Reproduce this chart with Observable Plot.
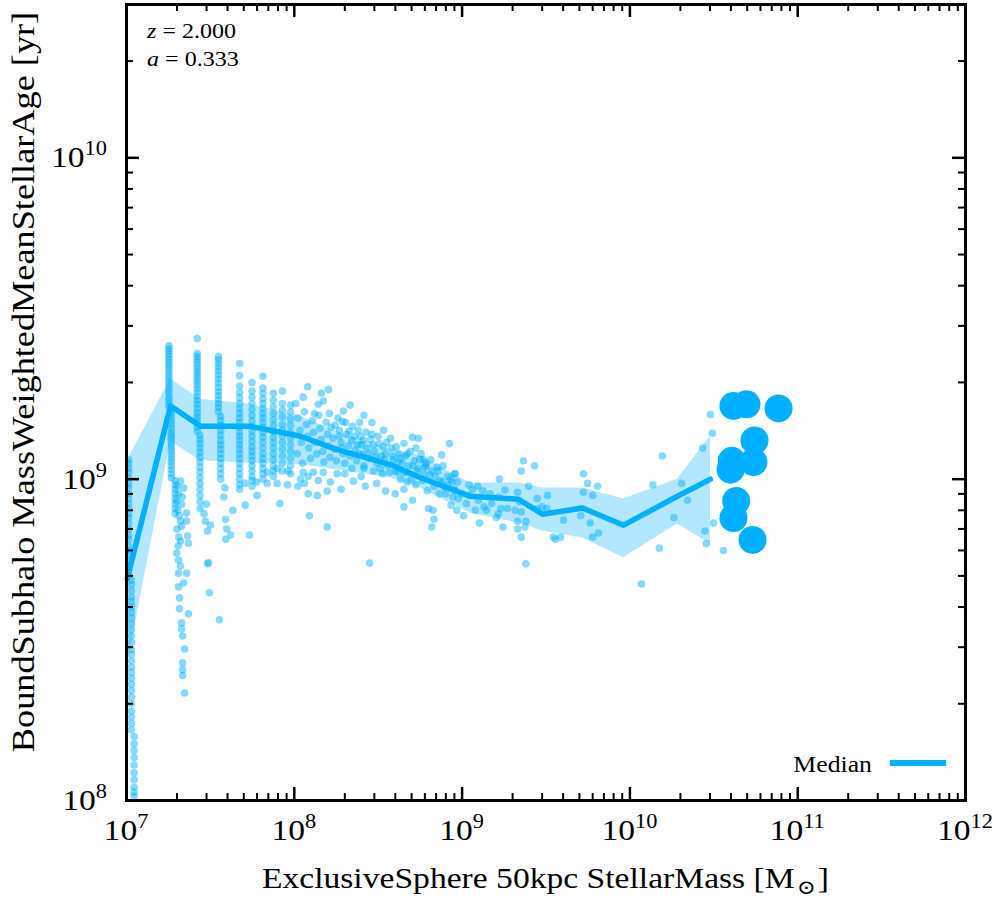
<!DOCTYPE html>
<html><head><meta charset="utf-8">
<script src="https://cdn.jsdelivr.net/npm/d3@7"></script>
<script src="https://cdn.jsdelivr.net/npm/@observablehq/plot@0.6"></script>
<style>body{margin:0;background:#fff} svg{display:block}</style>
</head><body><div id="chart"></div>
<script>
// ---- data (mass in Msun, ages in Gyr) ----
const xMajor = [1e7, 1e8, 1e9, 1e10, 1e11, 1e12];
const xTickLabels = ["7", "8", "9", "10", "11", "12"];   // exponents of 10
const yMajor = [1e8, 1e9, 1e10];
const yTickLabels = ["8", "9", "10"];

// dense vertical columns (discrete low stellar masses)
const columnMass = [1.03e7, 1.07e7, 1.11e7, 1.79e7, 1.85e7, 1.95e7, 2.64e7, 2.74e7, 3.53e7, 3.64e7, 4.72e7, 5.6e7, 6.5e7, 7.5e7, 8.5e7, 9.5e7];
const columnAges = [
  [1.15,1.12,1.08,1.05,1.01,0.97,0.94,0.9,0.87,0.84,0.81,0.78,0.76,0.73,0.7,0.67,0.65,0.62,0.6,0.58,0.56,0.54,0.52,0.5],
  [0.485,0.47,0.45,0.43,0.415,0.4,0.385,0.37,0.355,0.34,0.325,0.31,0.295,0.285,0.272,0.26,0.25,0.24,0.23,0.22,0.21,0.2,0.19,0.182,0.174,0.166],
  [0.158,0.15,0.143,0.136,0.129,0.122,0.116,0.11,0.106,0.103],
  [2.6,2.55,2.5,2.45,2.4,2.35,2.3,2.25,2.2,2.15,2.1,2.05,2.0,1.95,1.9,1.85,1.8,1.76,1.72,1.68],
  [1.64,1.6,1.56,1.52,1.48,1.44,1.4,1.37,1.34,1.31,1.28,1.25,1.22,1.19,1.16,1.13,1.1,1.07,1.04,1.01],
  [0.99,0.96,0.93,0.9,0.87,0.84,0.81,0.78],
  [2.74,2.46,2.41,2.36,2.31,2.26,2.21,2.16,2.11,2.06,2.01,1.96,1.91,1.86,1.81,1.76,1.71,1.66,1.61,1.57,1.53,1.49,1.45,1.41],
  [1.37,1.33,1.29,1.25,1.21,1.17,1.13,1.09,1.05,1.01,0.97,0.93,0.89,0.85,0.81],
  [2.41,2.35,2.29,2.23,2.17,2.11,2.05,1.99,1.93,1.87,1.82,1.77,1.72,1.67,1.62],
  [1.57,1.52,1.47,1.42,1.37,1.32,1.28,1.24,1.2,1.16,1.12,1.08,1.04,1.0],
  [2.29,2.1,1.95,1.86,1.79,1.72,1.66,1.6,1.55,1.5,1.45,1.4,1.36,1.32,1.28,1.24,1.2,1.16,1.12,1.08,1.04,1.0,0.96,0.93],
  [2.0,1.88,1.8,1.72,1.65,1.58,1.52,1.46,1.41,1.36,1.31,1.26,1.22,1.18,1.14,1.1,1.06,1.02,0.99,0.95],
  [2.09,1.92,1.85,1.78,1.72,1.66,1.6,1.55,1.5,1.45,1.4,1.35,1.3,1.25,1.2,1.16,1.12,1.08,1.04,1.0],
  [1.85,1.76,1.68,1.6,1.53,1.47,1.41,1.35,1.3,1.25,1.2,1.15,1.1,1.06,1.02],
  [1.88,1.72,1.64,1.56,1.48,1.42,1.36,1.3,1.24,1.18,1.12,1.06],
  [1.7,1.62,1.54,1.47,1.4,1.34,1.28,1.22,1.16,1.1,1.04]
];

// individual scattered galaxies [mass, age Gyr]
const scatter = [
  [2.10e7,0.986],[2.19e7,0.938],[1.99e7,0.855],[2.13e7,0.836],[2.28e7,0.784],[2.10e7,0.741],[2.28e7,0.741],[2.13e7,0.714],
  [2.31e7,0.665],[2.10e7,0.642],[2.34e7,0.632],[1.99e7,0.589],[2.04e7,0.56],[2.10e7,0.537],[2.04e7,0.510],[2.28e7,0.510],
  [2.19e7,0.475],[2.04e7,0.462],[2.07e7,0.427],[2.07e7,0.395],[2.34e7,0.381],[2.13e7,0.357],[2.13e7,0.342],[2.16e7,0.325],
  [2.22e7,0.296],[2.16e7,0.268],[2.16e7,0.255],[2.16e7,0.245],[2.22e7,0.216],
  [2.0e7,0.95],[2.05e7,0.9],[2.02e7,0.8],[2.06e7,0.77],[2.15e7,0.88],[2.0e7,0.7],[2.05e7,0.66],[2.03e7,0.62],
  [2.99e7,0.836],[3.04e7,0.69],[3.17e7,0.72],[3.04e7,0.545],[3.08e7,0.55],[3.12e7,0.443],[2.9e7,0.78],[2.95e7,0.74],
  [3.58e7,0.365],[3.85e7,0.94],[3.9e7,0.75],[3.95e7,0.7],[3.9e7,0.65],[3.8e7,0.88],
  [5.1e7,0.83],[5.4e7,0.67],[6.0e7,0.89],[8.2e7,0.84],[5.1e7,0.97],[5.95e7,0.98],[6.9e7,0.97],[7.9e7,0.97],[9.1e7,0.96],
  [6.9e7,1.05],[7.9e7,1.08],[9.2e7,1.06],[4.17e7,0.67],[4.3e7,0.8],
  [1.2e8,1.94],[1.13e8,1.8],[1.49e8,1.75],[1.39e8,1.71],[1.96e8,1.63],[1.62e8,1.6],[1.32e8,1.6],[1.94e8,1.51],[2.22e8,1.46],
  [2.48e8,1.36],[2.85e8,1.33],[3.74e8,1.34],[5.06e8,1.35],[5.5e8,1.34],[4.5e8,1.29],[5.3e8,1.25],[3.4e8,1.26],[8.41e8,1.29],
  [7.55e8,1.19],[5.9e8,1.15],[7.1e8,1.09],[9.1e8,1.04],[1.1e9,0.96],[3.5e8,0.918],[2.65e8,0.95],[4.5e8,0.93],[5.06e8,0.86],
  [4.5e8,0.82],[6.3e8,0.81],[6.7e8,0.8],[6.8e8,0.75],[6.6e8,0.71],[9.3e8,0.8],[1.02e9,0.77],[1.57e8,0.71],[1.23e8,0.77],
  [1.57e8,0.918],[1.37e8,0.89],[1.21e8,0.9],[1.64e8,0.98],[1.39e8,0.99],[1.8e8,1.04],[2.0e8,1.04],[2.25e8,0.986],[1.21e8,1.02],
  [1.09e8,1.0],[1.13e8,1.05],[1.3e8,1.05],[1.49e8,1.05],[2.6e8,1.08],[2.97e8,1.06],[3.35e8,1.04],[4.1e8,1.05],[4.7e8,1.05],
  [5.4e8,1.06],[6.0e8,1.09],[8.2e8,1.02],[2.81e8,0.548],
  [1.02e8,1.72],[1.05e8,1.55],[1.08e8,1.42],[1.1e8,1.3],[1.04e8,1.2],[1.12e8,1.12],[1.15e8,1.62],[1.18e8,1.48],[1.2e8,1.36],
  [1.22e8,1.25],[1.25e8,1.16],[1.28e8,1.52],[1.3e8,1.4],[1.33e8,1.3],[1.36e8,1.2],[1.4e8,1.58],[1.42e8,1.44],[1.45e8,1.33],
  [1.48e8,1.22],[1.5e8,1.13],[1.55e8,1.5],[1.58e8,1.38],[1.6e8,1.27],[1.63e8,1.17],[1.66e8,1.45],
  [1.7e8,1.34],[1.74e8,1.24],[1.78e8,1.14],[1.82e8,1.55],[1.86e8,1.42],[1.9e8,1.3],[1.95e8,1.2],[2.0e8,1.12],[2.05e8,1.38],
  [2.1e8,1.27],[2.15e8,1.18],[2.2e8,1.32],[2.3e8,1.23],[2.35e8,1.14],[2.4e8,1.42],[2.5e8,1.28],[2.55e8,1.19],[2.6e8,1.1],
  [2.7e8,1.25],[2.8e8,1.16],[2.9e8,1.38],[3.0e8,1.22],[3.1e8,1.12],[3.2e8,1.29],[3.3e8,1.18],
  [3.5e8,1.2],[3.6e8,1.1],[3.8e8,1.25],[3.9e8,1.15],[4.0e8,1.06],[4.2e8,1.2],[4.4e8,1.12],[4.6e8,1.18],[4.8e8,1.1],[5.0e8,1.0],
  [5.2e8,1.14],[5.5e8,1.08],[5.8e8,0.99],[6.1e8,1.12],[6.4e8,1.03],[6.8e8,0.95],[7.2e8,1.06],[7.6e8,0.98],[8.0e8,0.9],
  [8.5e8,1.0],[9.0e8,0.93],[9.5e8,0.87],
  [1.75e8,1.47],[1.85e8,1.36],[1.92e8,1.25],[2.02e8,1.5],[2.12e8,1.41],[2.28e8,1.36],[2.38e8,1.28],[2.45e8,1.2],[2.58e8,1.32],
  [2.68e8,1.4],[2.75e8,1.2],[2.95e8,1.28],[3.05e8,1.17],[3.15e8,1.36],[3.25e8,1.08],[3.45e8,1.15],[3.55e8,1.3],[3.7e8,1.05],
  [3.85e8,1.18],[4.05e8,1.26],[4.15e8,1.13],[4.3e8,1.16],[4.5e8,1.05],[4.7e8,0.98],[4.9e8,1.22],[5.1e8,1.1],[5.3e8,0.96],
  [5.7e8,1.2],[5.9e8,1.04],[6.2e8,0.92],[6.5e8,1.15],[6.9e8,1.02],[7.3e8,0.9],[7.7e8,1.1],[8.2e8,0.96],[8.8e8,0.88],
  [9.4e8,0.98],[1.0e9,0.9],[1.06e9,0.84],[1.15e9,0.93],[1.25e9,0.86],[1.35e9,0.82],[2.5e8,1.02],[2.2e8,1.08],[1.9e8,0.93],
  [3.1e8,0.97],[4.0e8,0.9],[1.05e8,0.95],[1.15e8,0.97],[2.45e8,1.5],[2.9e8,1.5],[3.4e8,1.42],[1.6e8,1.9],[1.45e8,1.85],
  [2.15e8,1.7],[2.6e8,1.58],
  [4.3e8,1.0],[9.0e8,1.04],[8.7e8,0.98],[1.24e9,0.95],[8.6e8,0.83],[1.27e9,0.73],[1.67e9,1.0],[1.8e9,0.925],[1.65e9,0.78],
  [2.14e9,0.91],[2.32e9,1.14],[2.25e9,1.06],[2.7e9,1.1],[2.49e9,0.95],[2.8e9,0.87],[3.23e9,0.89],[3.0e9,0.82],[2.25e9,0.79],
  [2.4e9,0.74],[2.37e9,0.71],[2.14e9,0.74],[2.25e9,0.66],[2.4e9,0.545],[4.02e9,0.745],[3.5e9,0.66],[5.28e9,1.04],[5.6e9,0.97],
  [6.41e9,0.95],[5.28e9,0.91],[6.0e9,0.89],[5.1e9,0.77],[5.8e9,0.73],[6.5e9,0.68],[6.0e9,0.66],[1.56e10,1.18],[1.37e10,0.96],
  [2.03e10,0.97],[2.2e10,0.86],[1.83e10,0.76],[1.5e10,0.61],[2.71e10,1.25],[3.02e10,1.59],[3.1e10,1.39],[3.15e10,0.73],
  [2.8e10,0.69],[2.85e10,0.63],[3.61e10,0.6],[1.17e10,0.472],
  [4.7e8,1.2],[5.6e8,1.15],[6.1e8,1.1],[6.6e8,1.06],[7.4e8,0.99],[7.9e8,0.94],[9.1e8,0.92],[1.1e9,0.89],[1.2e9,0.8],
  [1.47e9,0.9],[1.65e9,0.88],[1.33e9,0.92],[1.5e9,0.84],[1.7e9,0.81],[1.86e9,0.81],[2.07e9,0.8],[2.2e9,0.85],[1.6e9,0.76],
  [1.4e9,0.8],[1.75e9,0.71],[2.14e9,0.7],[2.8e9,0.81],[3.2e9,0.81],[3.86e9,0.66],[3.6e9,0.65]
];

// most massive galaxies (large markers)
const bigMass = [4.14e10, 4.95e10, 7.69e10, 5.53e10, 5.45e10, 4.05e10, 3.98e10, 4.3e10, 4.14e10, 5.38e10];
const bigAge  = [1.69, 1.71, 1.66, 1.32, 1.13, 1.14, 1.07, 0.855, 0.757, 0.647];

// running median and percentile band
const binMass   = [1.01e7, 1.83e7, 2.76e7, 5.48e7, 1.09e8, 1.76e8, 3.74e8, 5.65e8, 1.12e9, 2.17e9, 3.01e9, 5.22e9, 9.17e9, 1.92e10, 3.02e10];
const medianAge = [0.49, 1.69, 1.46, 1.46, 1.36, 1.24, 1.11, 1.01, 0.885, 0.866, 0.778, 0.813, 0.719, 0.885, 1.0];
const bandHigh  = [1.14, 2.05, 1.77, 1.71, 1.57, 1.41, 1.24, 1.18, 0.972, 0.972, 0.938, 0.938, 0.867, 1.0, 1.36];
const bandLow   = [0.262, 1.31, 1.14, 1.12, 1.11, 1.07, 1.01, 0.938, 0.783, 0.73, 0.69, 0.656, 0.569, 0.725, 0.628];

// ---- build tables ----
const GYR = 1e9;
const points = [];
columnMass.forEach((m, i) => columnAges[i].forEach(a => points.push({mass: m, age: a * GYR})));
scatter.forEach(([m, a]) => points.push({mass: m, age: a * GYR}));
const big = bigMass.map((m, i) => ({mass: m, age: bigAge[i] * GYR}));
const band = binMass.map((m, i) => ({mass: m, med: medianAge[i] * GYR, lo: bandLow[i] * GYR, hi: bandHigh[i] * GYR}));

const xMinor = [], yMinor = [];
xMajor.slice(0, -1).forEach(d => { for (let k = 2; k <= 9; k++) xMinor.push(k * d); });
yMajor.forEach(d => { for (let k = 2; k <= 9; k++) if (k * d <= 3e10) yMinor.push(k * d); });

const W = 996, H = 900, mL = 126, mR = 31, mT = 4, mB = 100;
const iw = W - mL - mR, ih = H - mT - mB;
const C = "#00b0ff";
const FONT = "'Liberation Serif', 'Times New Roman', 'DejaVu Serif', serif";
const SX = 1.12; // horizontal glyph stretch of the reference typography

const chart = Plot.plot({
  width: W, height: H,
  marginLeft: mL, marginRight: mR, marginTop: mT, marginBottom: mB,
  x: {type: "log", domain: [1e7, 1e12], axis: null},
  y: {type: "log", domain: [1e8, 3e10], axis: null},
  style: {fontFamily: FONT, background: "#fff", color: "#000"},
  marks: [
    Plot.areaY(band, {x: "mass", y1: "lo", y2: "hi", fill: C, fillOpacity: 0.3}),
    Plot.dot(points, {x: "mass", y: "age", r: 3.8, fill: C, fillOpacity: 0.47}),
    Plot.line(band, {x: "mass", y: "med", stroke: C, strokeWidth: 5.5}),
    Plot.dot(big, {x: "mass", y: "age", r: 14, fill: C}),
    // inward ticks on all sides
    Plot.tickX(xMajor, {x: d => d, insetTop: ih - 13, stroke: "#000", strokeWidth: 2.5}),
    Plot.tickX(xMajor, {x: d => d, insetBottom: ih - 13, stroke: "#000", strokeWidth: 2.5}),
    Plot.tickX(xMinor, {x: d => d, insetTop: ih - 7, stroke: "#000", strokeWidth: 2}),
    Plot.tickX(xMinor, {x: d => d, insetBottom: ih - 7, stroke: "#000", strokeWidth: 2}),
    Plot.tickY(yMajor, {y: d => d, insetRight: iw - 13, stroke: "#000", strokeWidth: 2.5}),
    Plot.tickY(yMajor, {y: d => d, insetLeft: iw - 13, stroke: "#000", strokeWidth: 2.5}),
    Plot.tickY(yMinor, {y: d => d, insetRight: iw - 7, stroke: "#000", strokeWidth: 2}),
    Plot.tickY(yMinor, {y: d => d, insetLeft: iw - 7, stroke: "#000", strokeWidth: 2}),
    Plot.frame({stroke: "#000", strokeWidth: 3})
  ]
});

const svg = d3.select(chart);
const xs = chart.scale("x"), ys = chart.scale("y");
function label(x, y, rot, size, anchor) {
  return svg.append("text")
    .attr("transform", `translate(${x},${y})${rot ? ` rotate(${rot})` : ""} scale(${SX},1)`)
    .attr("text-anchor", anchor).attr("font-size", size).attr("font-family", FONT).attr("fill", "#000");
}
function powerLabel(t, e) {
  t.append("tspan").text("10");
  t.append("tspan").attr("dy", -12).attr("font-size", 20).text(e);
}
// tick labels, positioned with Plot's own scales
xMajor.forEach((v, i) => label(xs.apply(v), 840, 0, 30, "middle").call(powerLabel, xTickLabels[i]));
yMajor.forEach((v, i) => label(107, ys.apply(v) + 10, 0, 30, "end").call(powerLabel, yTickLabels[i]));
// axis titles
label((mL + W - mR) / 2, 888, 0, 30, "middle").call(t => {
  t.append("tspan").text("ExclusiveSphere 50kpc StellarMass [M");
  t.append("tspan").attr("font-size", 20).attr("dy", 6).attr("dx", 2).text("⊙");
  t.append("tspan").attr("dy", -6).attr("dx", 2).text("]");
});
label(34, 382, -90, 32.4, "middle").text("BoundSubhalo MassWeightedMeanStellarAge [yr]");
// redshift annotation
[["z", "2.000", 38], ["a", "0.333", 66]].forEach(([v, val, yy]) => {
  label(147, yy, 0, 21.5, "start").call(t => {
    t.append("tspan").attr("font-style", "italic").text(v);
    t.append("tspan").text(" = " + val);
  });
});
// legend
label(872, 772, 0, 23, "end").text("Median");
svg.append("line").attr("x1", 890).attr("x2", 946).attr("y1", 763).attr("y2", 763)
  .attr("stroke", C).attr("stroke-width", 6);

document.getElementById("chart").append(chart);
</script>
</body></html>
